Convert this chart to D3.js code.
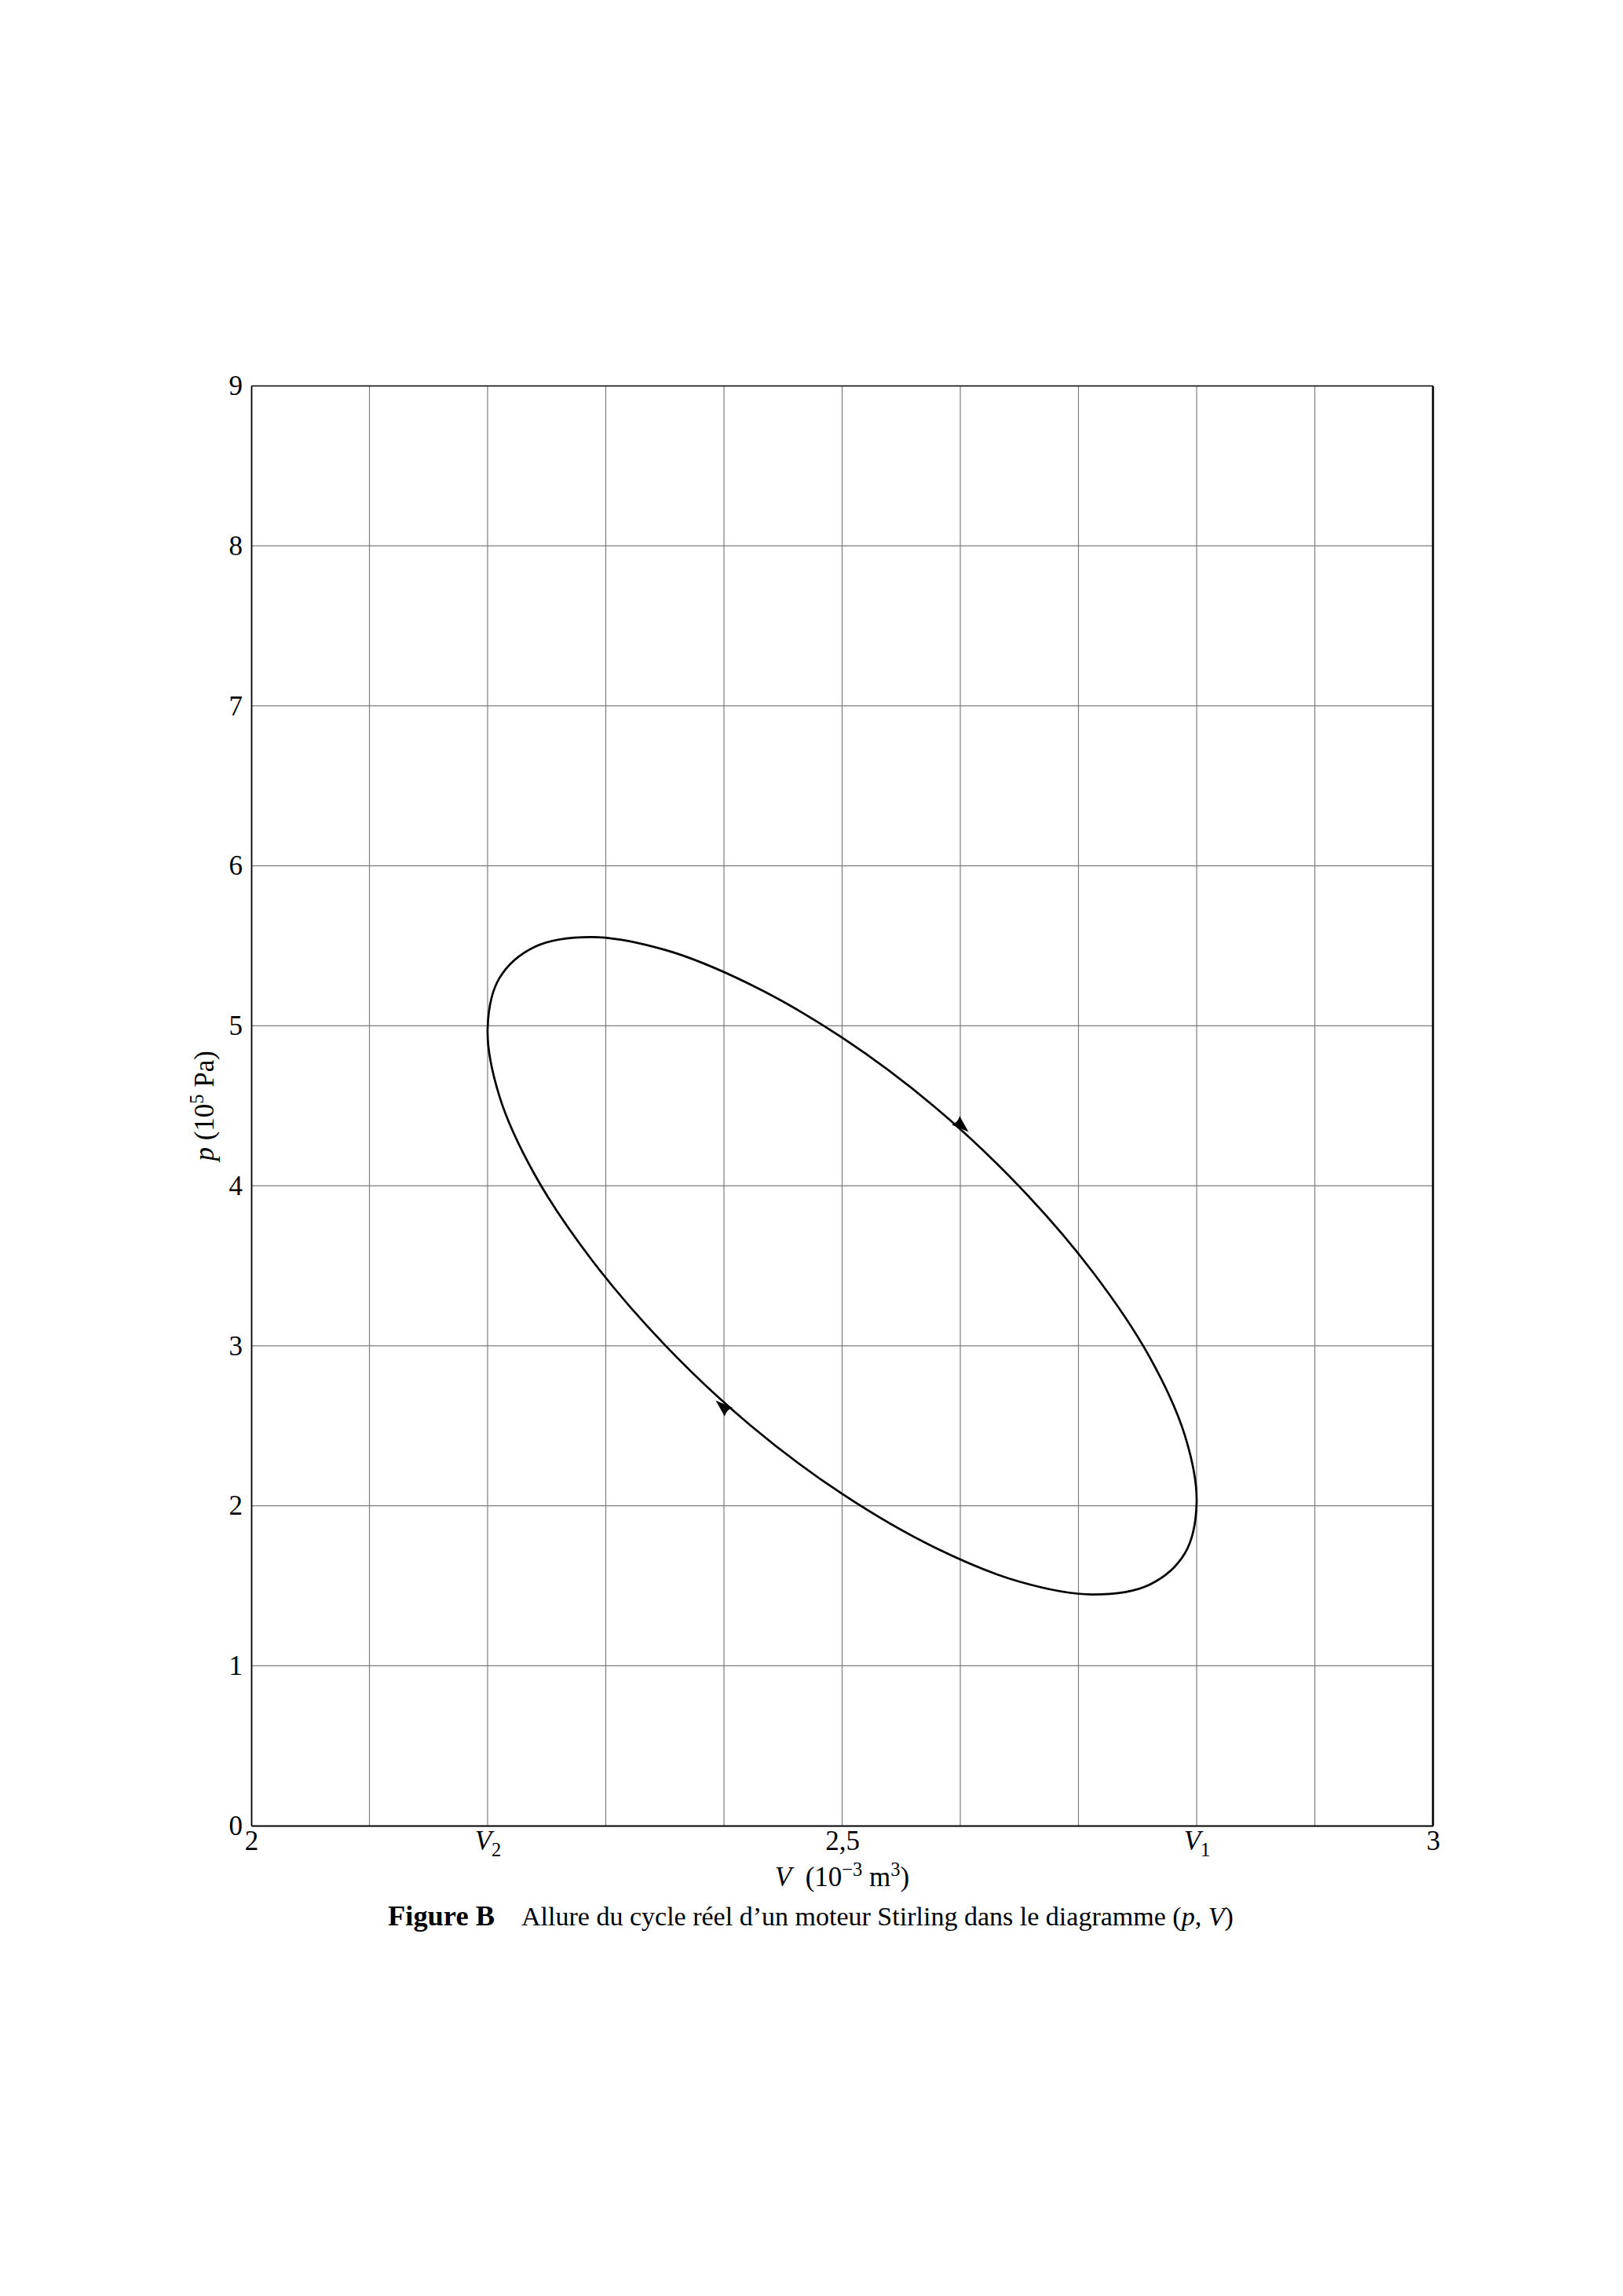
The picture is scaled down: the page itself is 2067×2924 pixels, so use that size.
<!DOCTYPE html>
<html>
<head>
<meta charset="utf-8">
<script src="https://cdn.jsdelivr.net/npm/d3@7"></script>
<style>
  html, body { margin: 0; padding: 0; background: #fff; }
  svg { display: block; }
  text { font-family: "Liberation Serif", "DejaVu Serif", serif; fill: #000; }
</style>
</head>
<body>
<svg id="chart" width="2067" height="2924"></svg>
<script>
// ---- data ----
const xDomain = [2, 3];
const yDomain = [0, 9];
const xGridValues = [2.1, 2.2, 2.3, 2.4, 2.5, 2.6, 2.7, 2.8, 2.9];
const yGridValues = [1, 2, 3, 4, 5, 6, 7, 8];
const xTickValues = [2, 2.2, 2.5, 2.8, 3];
const xTickLabels = ["2", "V|2", "2,5", "V|1", "3"];
const yTickValues = [0, 1, 2, 3, 4, 5, 6, 7, 8, 9];
const yTickLabels = ["0", "1", "2", "3", "4", "5", "6", "7", "8", "9"];

// cycle (V in 1e-3 m3, p in 1e5 Pa)
const cycleV = [2.800, 2.790, 2.760, 2.712, 2.650, 2.578, 2.500, 2.422, 2.350, 2.288, 2.240, 2.210,
                2.200, 2.210, 2.240, 2.288, 2.350, 2.422, 2.500, 2.578, 2.650, 2.712, 2.760, 2.790];
const cycleP = [2.020, 1.702, 1.506, 1.445, 1.525, 1.740, 2.074, 2.505, 3.005, 3.538, 4.068, 4.560,
                4.980, 5.298, 5.494, 5.555, 5.475, 5.260, 4.926, 4.495, 3.995, 3.462, 2.932, 2.440];

// direction arrows: position and tangent direction (dV, dp)
const arrowV  = [2.606, 2.394];
const arrowP  = [4.343, 2.651];
const arrowDV = [0.283, -0.283];
const arrowDP = [-1.870, 1.870];

const captionBold = "Figure B";

(function () {
// ---- layout ----
const pL = 320, pR = 1825, pT = 491.5, pB = 2325;
const svg = d3.select("#chart");
svg.append("rect").attr("width", 2067).attr("height", 2924).attr("fill", "#fff");

const x = d3.scaleLinear().domain(xDomain).range([pL, pR]);
const y = d3.scaleLinear().domain(yDomain).range([pB, pT]);

// grid
const grid = svg.append("g").attr("stroke", "#7d7d7d").attr("stroke-width", 1.2);
grid.selectAll("line.v").data(xGridValues).join("line").attr("class", "v")
  .attr("x1", d => x(d)).attr("x2", d => x(d)).attr("y1", pT).attr("y2", pB);
grid.selectAll("line.h").data(yGridValues).join("line").attr("class", "h")
  .attr("y1", d => y(d)).attr("y2", d => y(d)).attr("x1", pL).attr("x2", pR);

// frame
svg.append("line").attr("x1", pL).attr("x2", pR).attr("y1", pT).attr("y2", pT)
  .attr("stroke", "#000").attr("stroke-width", 1.5);
svg.append("line").attr("x1", pR).attr("x2", pR).attr("y1", pT).attr("y2", pB)
  .attr("stroke", "#000").attr("stroke-width", 2.6);

// axes
const fs = 35;
const xAxis = d3.axisBottom(x).tickValues(xTickValues).tickSize(0).tickPadding(6)
  .tickFormat((d, i) => xTickLabels[i]);
const gx = svg.append("g").attr("transform", `translate(0,${pB})`).call(xAxis);
gx.select(".domain").attr("stroke", "#000").attr("stroke-width", 1.8);
gx.selectAll(".tick text").attr("font-size", fs).attr("font-family", "Liberation Serif")
  .each(function(d, i) {
    const lab = xTickLabels[i];
    if (lab.indexOf("|") >= 0) {
      const parts = lab.split("|");
      const t = d3.select(this).text(null);
      t.append("tspan").attr("font-style", "italic").text(parts[0]);
      t.append("tspan").attr("font-size", fs * 0.7).attr("dy", 8).text(parts[1]);
    }
  });

const yAxis = d3.axisLeft(y).tickValues(yTickValues).tickSize(0).tickPadding(11)
  .tickFormat((d, i) => yTickLabels[i]);
const gy = svg.append("g").attr("transform", `translate(${pL},0)`).call(yAxis);
gy.select(".domain").attr("stroke", "#000").attr("stroke-width", 1.8);
gy.selectAll(".tick text").attr("font-size", fs).attr("font-family", "Liberation Serif");

// axis titles
const sup = 13;
const xl = svg.append("text").attr("x", (pL + pR) / 2).attr("y", 2402)
  .attr("text-anchor", "middle").attr("font-size", fs);
xl.append("tspan").attr("font-style", "italic").text("V");
xl.append("tspan").text("\u2002(10");
xl.append("tspan").attr("font-size", fs * 0.7).attr("dy", -sup).text("−3");
xl.append("tspan").attr("dy", sup).text(" m");
xl.append("tspan").attr("font-size", fs * 0.7).attr("dy", -sup).text("3");
xl.append("tspan").attr("dy", sup).text(")");

const yl = svg.append("text").attr("transform", `translate(272,${(pT + pB) / 2}) rotate(-90)`)
  .attr("text-anchor", "middle").attr("font-size", fs);
yl.append("tspan").attr("font-style", "italic").text("p");
yl.append("tspan").text(" (10");
yl.append("tspan").attr("font-size", fs * 0.7).attr("dy", -sup).text("5");
yl.append("tspan").attr("dy", sup).text(" Pa)");

// cycle curve
const pts = cycleV.map((v, i) => [v, cycleP[i]]);
const line = d3.line().x(d => x(d[0])).y(d => y(d[1])).curve(d3.curveCatmullRomClosed.alpha(0.5));
svg.append("path").datum(pts).attr("d", line)
  .attr("fill", "none").attr("stroke", "#000").attr("stroke-width", 2.7);

// arrowheads
arrowV.forEach((v, i) => {
  const px = x(v), py = y(arrowP[i]);
  const dx = x(v + arrowDV[i]) - x(v), dy = y(arrowP[i] + arrowDP[i]) - y(arrowP[i]);
  const ang = Math.atan2(dy, dx) * 180 / Math.PI;
  svg.append("path")
    .attr("d", "M2,0 L-20,-7.5 Q-16,0 -20,7.5 Z")
    .attr("transform", `translate(${px},${py}) rotate(${ang})`)
    .attr("fill", "#000");
});

// caption
const fc = 36;
const cb = svg.append("text").attr("x", 494).attr("y", 2452).attr("font-size", fc)
  .attr("font-weight", "bold").text(captionBold);
const ct = svg.append("text").attr("x", 664).attr("y", 2452).attr("font-size", fc);
ct.append("tspan").text("Allure du cycle réel d’un moteur Stirling dans le diagramme (");
ct.append("tspan").attr("font-style", "italic").text("p");
ct.append("tspan").text(", ");
ct.append("tspan").attr("font-style", "italic").text("V");
ct.append("tspan").text(")");
// fit caption widths to the reference spans
const w1 = cb.node().getComputedTextLength();
cb.attr("font-size", Math.min(fc * 1.15, fc * 136 / w1));
const w2 = ct.node().getComputedTextLength();
ct.attr("font-size", Math.min(fc * 1.15, fc * 907 / w2));
})();
</script>
</body>
</html>
